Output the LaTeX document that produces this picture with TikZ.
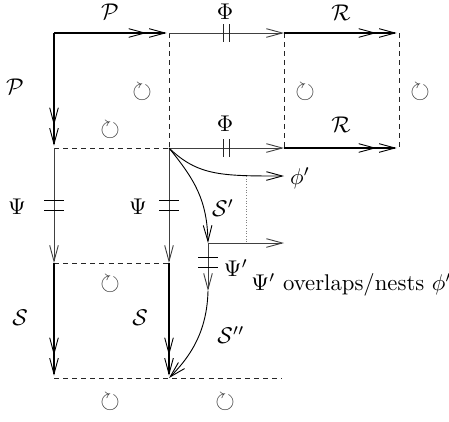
\documentclass[tikz,border=0pt]{standalone}
\usepackage{amsmath}
\usepackage{amssymb}
\usetikzlibrary{arrows.meta, positioning}

\begin{document}
\begin{tikzpicture}[
			x=0.44pt, y=-0.44pt,
			morph/.style={draw=black!75, line width=0.4pt, -{Straight Barb[length=7pt,width=3.8pt,line width=0.4pt]}},
			epi/.style={draw=black, line width=0.55pt, -{Straight Barb[length=7pt,width=3.8pt,line width=0.4pt,sep=1pt] Straight Barb[length=7pt,width=3.8pt,line width=0.4pt,sep=1pt]}},
			frame/.style={draw=black!85, line width=0.4pt, dash pattern=on 2.2pt off 1.8pt},
			guide/.style={draw=black!50, line width=0.4pt, dash pattern=on 0.4pt off 0.8pt},
			lab/.style={inner sep=0pt},
			turn/.style={inner sep=0pt, text=black!80, scale=1.1},
			vbars/.pic={\draw[-, black!85] (-3,-9) -- (-3,9) (3,-9) -- (3,9);},
			hbars/.pic={\draw[-, black] (-10,-5) -- (10,-5) (-10,5) -- (10,5);}
		]
		\useasboundingbox (0,0) rectangle (449,421);

		\coordinate (a0) at (54,33);
		\coordinate (b0) at (169,33);
		\coordinate (c0) at (284,33);
		\coordinate (d0) at (399,33);
		\coordinate (a1) at (54,148);
		\coordinate (b1) at (169,148);
		\coordinate (c1) at (284,148);
		\coordinate (d1) at (399,148);
		\coordinate (a2) at (54,263);
		\coordinate (b2) at (169,263);
		\coordinate (a3) at (54,378);
		\coordinate (b3) at (169,378);
		\coordinate (c3) at (282,378);
		\coordinate (phiend) at (284,176);
		\coordinate (sone) at (208,243);
		\coordinate (sonex) at (284,243);
		\coordinate (stwo) at (208,291);
		\coordinate (dottop) at (246,176);
		\coordinate (dotbot) at (246,243);

		\draw[frame] (b0) -- (b1);
		\draw[frame] (c0) -- (c1);
		\draw[frame] (d0) -- (d1);
		\draw[frame] (a1) -- (b1);
		\draw[frame] (a2) -- (b2);
		\draw[frame] (a3) -- (c3);

		\draw[epi] (a0) -- (b0);
		\draw[morph] (b0) -- pic[pos=0.5]{vbars} (c0);
		\draw[epi] (c0) -- (d0);
		\draw[epi] (a0) -- (a1);
		\draw[morph] (b1) -- pic[pos=0.5]{vbars} (c1);
		\draw[epi] (c1) -- (d1);

		\draw[morph] (a1) -- pic[pos=0.5]{hbars} (a2);
		\draw[morph] (b1) -- pic[pos=0.5]{hbars} (b2);
		\draw[epi] (a2) -- (a3);
		\draw[epi] (b2) -- (b3);

		\draw[morph, draw=black] (b1) .. controls (198,176) and (222,176) .. (phiend);
		\draw[morph, draw=black] (b1) .. controls (195,180) and (207,200) .. (sone);
		\draw[morph] (sone) -- (sonex);
		\draw[guide] (dottop) -- (dotbot);
		\draw[morph] (sone) -- pic[pos=0.4]{hbars} (stwo);
		\draw[morph, draw=black] (stwo) .. controls (207,330) and (192,355) .. (b3);

		\node[lab] (lP1) at (110,12) {$\mathcal{P}$};
		\node[lab] (lP2) at (15,87) {$\mathcal{P}$};
		\node[lab] (lPhi1) at (225,12) {$\Phi$};
		\node[lab] (lPhi2) at (225,124) {$\Phi$};
		\node[lab] (lR1) at (341,13) {$\mathcal{R}$};
		\node[lab] (lR2) at (341,125) {$\mathcal{R}$};
		\node[lab] (lPsi1) at (17,207) {$\Psi$};
		\node[lab] (lPsi2) at (138,207) {$\Psi$};
		\node[lab] (lS1) at (20,318) {$\mathcal{S}$};
		\node[lab] (lS2) at (140,318) {$\mathcal{S}$};
		\node[lab] (lSp) at (223,208) {$\mathcal{S}'$};
		\node[lab] (lphi) at (300,178) {$\phi'$};
		\node[lab] (lPsip) at (236,268) {$\Psi'$};
		\node[lab, anchor=west] (lnote) at (251,285) {$\Psi'$ overlaps/nests $\phi'$};
		\node[lab] (lSpp) at (231,335) {$\mathcal{S}''$};

		\node[turn] (t1) at (142,92) {$\circlearrowright$};
		\node[turn] (t2) at (110,130) {$\circlearrowright$};
		\node[turn] (t3) at (305,92) {$\circlearrowright$};
		\node[turn] (t4) at (420,92) {$\circlearrowright$};
		\node[turn] (t5) at (110,284) {$\circlearrowright$};
		\node[turn] (t6) at (110,402) {$\circlearrowright$};
		\node[turn] (t7) at (225,402) {$\circlearrowright$};

	\end{tikzpicture}
\end{document}
